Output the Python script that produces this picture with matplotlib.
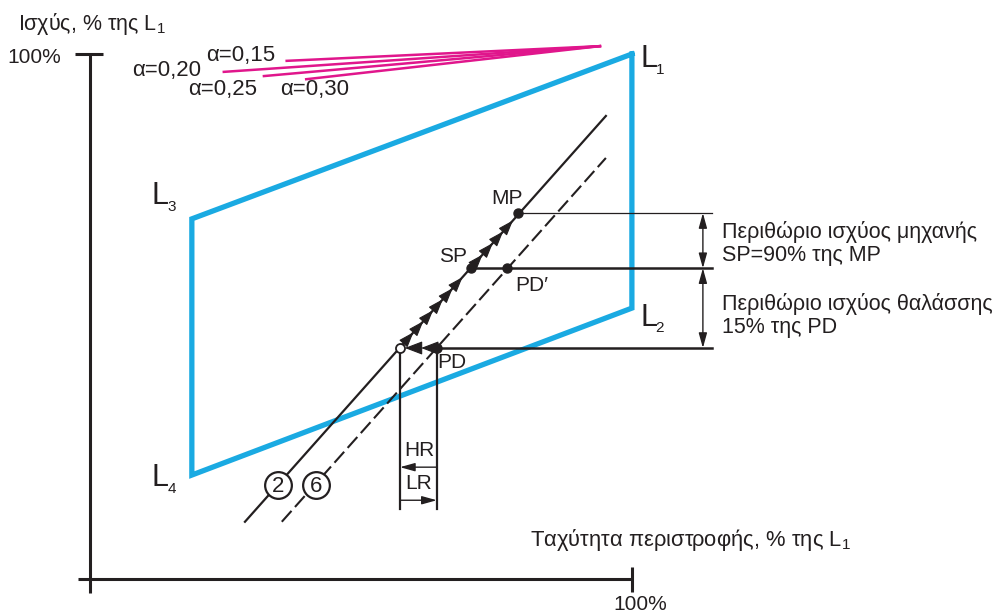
import matplotlib
matplotlib.use("Agg")
import matplotlib.pyplot as plt
import numpy as np

plt.rcParams['font.family'] = ['Liberation Sans', 'DejaVu Sans']
plt.rcParams['mathtext.fontset'] = 'custom'
plt.rcParams['mathtext.rm'] = 'Liberation Sans'
plt.rcParams['mathtext.default'] = 'regular'

# ---- data (all in % of L1: x = speed, y = power) ----
layout_x = [100, 100, 18.8, 18.8, 100]          # L1, L2, L4, L3, L1
layout_y = [100, 51.6, 19.8, 68.6, 100]
corner_names = ['1', '2', '3', '4']

alpha_labels = ['α=0,15', 'α=0,20', 'α=0,25', 'α=0,30']
alpha_start_x = [36.3, 24.7, 32.1, 39.9]
alpha_start_y = [98.7, 96.6, 95.8, 95.2]
alpha_end = (94.1, 101.5)

line2_x = [28.6, 95.2]
line2_y = [10.9, 88.2]
line6_x = [35.4, 95.2]
line6_y = [10.9, 80.2]

MP = (79.0, 69.7)
SP = (70.3, 59.2)
PDp = (76.9, 59.2)
PD = (64.0, 44.0)
OP = (57.2, 44.0)     # open circle on line 2

margin_end_x = 114.8
bracket_x = 113.1
dim_bottom = 13.3
HR_y = 21.3
LR_y = 15.0
arrow_y_below = [47.0, 49.1, 51.2, 53.3, 55.4, 57.5]
arrow_y_above = [61.8, 64.0, 66.2, 68.3]

blue = '#1AAAE2'
magenta = '#E0168C'
txtc = '#231F20'

fig = plt.figure(figsize=(10.08, 6.15), dpi=100)
ax = fig.add_axes([0, 0, 1, 1])
ax.set_xlim(-16.6, 169.4)
ax.set_ylim(-6.86, 110.29)
ax.axis('off')

# axes lines
ax.plot([-2.2, 100], [0, 0], color=txtc, lw=2.2, solid_capstyle='butt')
ax.plot([0, 0], [-2.7, 100], color=txtc, lw=2.2, solid_capstyle='butt')
ax.plot([-2.8, 2.4], [100, 100], color=txtc, lw=2.2, solid_capstyle='butt')
ax.plot([100, 100], [2.3, -2.5], color=txtc, lw=2.2, solid_capstyle='butt')

# layout diagram
ax.plot(layout_x, layout_y, color=blue, lw=3.8, solid_joinstyle='miter', zorder=2)

# alpha lines
for sx, sy in zip(alpha_start_x, alpha_start_y):
    ax.plot([sx, alpha_end[0]], [sy, alpha_end[1]], color=magenta, lw=1.8, zorder=2)

# lines 2 and 6
ax.plot(line2_x, line2_y, color=txtc, lw=1.6, zorder=3)
ax.plot(line6_x, line6_y, color=txtc, lw=1.5, zorder=3, dashes=(7, 2.5))

# horizontal lines
ax.plot([MP[0], margin_end_x], [MP[1], MP[1]], color=txtc, lw=0.9, zorder=3)
ax.plot([SP[0], margin_end_x], [SP[1], SP[1]], color=txtc, lw=1.8, zorder=3)
ax.plot([PD[0], margin_end_x], [PD[1], PD[1]], color=txtc, lw=1.8, zorder=3)

# vertical dims from OP and PD
ax.plot([OP[0], OP[0]], [OP[1], dim_bottom], color=txtc, lw=1.6, zorder=3)
ax.plot([PD[0], PD[0]], [PD[1], dim_bottom], color=txtc, lw=1.6, zorder=3)

# arrows along line 2
slope = (line2_y[1] - line2_y[0]) / (line2_x[1] - line2_x[0])
def x_on2(y):
    return line2_x[0] + (y - line2_y[0]) / slope
for yy in arrow_y_below + arrow_y_above:
    x1 = x_on2(yy)
    x0 = x_on2(yy - 1.6)
    ax.annotate('', xy=(x1, yy), xytext=(x0, yy - 1.6),
                arrowprops=dict(arrowstyle='-|>,head_length=0.95,head_width=0.34',
                                color=txtc, lw=0.8, shrinkA=0, shrinkB=0), zorder=4)

# double arrowheads on PD line pointing to OP
for tip in [OP[0] + 0.9, OP[0] + 3.9]:
    ax.annotate('', xy=(tip, PD[1]), xytext=(tip + 2.6, PD[1]),
                arrowprops=dict(arrowstyle='-|>,head_length=1.1,head_width=0.42',
                                color=txtc, lw=0.8, shrinkA=0, shrinkB=0), zorder=4)

# HR / LR arrows
ax.annotate('', xy=(OP[0], HR_y), xytext=(PD[0], HR_y),
            arrowprops=dict(arrowstyle='-|>,head_length=0.9,head_width=0.25',
                            color=txtc, lw=1.0, shrinkA=0, shrinkB=0))
ax.annotate('', xy=(PD[0], LR_y), xytext=(OP[0], LR_y),
            arrowprops=dict(arrowstyle='-|>,head_length=0.9,head_width=0.25',
                            color=txtc, lw=1.0, shrinkA=0, shrinkB=0))

# margin brackets
for y0, y1 in [(MP[1], SP[1]), (SP[1], PD[1])]:
    ax.annotate('', xy=(bracket_x, y0), xytext=(bracket_x, y1),
                arrowprops=dict(arrowstyle='<|-|>,head_length=0.9,head_width=0.25',
                                color=txtc, lw=1.0, shrinkA=0, shrinkB=0))

# points
ax.plot([MP[0], SP[0], PDp[0], PD[0]], [MP[1], SP[1], PDp[1], PD[1]], 'o',
        color=txtc, ms=6.5, zorder=5)
ax.plot([OP[0]], [OP[1]], 'o', mfc='white', mec=txtc, mew=1.3, ms=6.5, zorder=5)

# circled numbers
circ_x = [34.7, 41.7]
circ_y = [17.9, 17.9]
circ_txt = ['2', '6']
for cx, cy, t in zip(circ_x, circ_y, circ_txt):
    ax.scatter([cx], [cy], s=370, facecolor='white', edgecolor=txtc, linewidths=1.6, zorder=6)
    ax.text(cx, cy - 0.2, t, ha='center', va='center', fontsize=16, color=txtc, zorder=7)

# corner labels
big_pos = [(101.5, 99.0), (101.5, 49.8), (11.4, 72.9), (11.4, 19.2)]
for (lx, ly), n in zip(big_pos, corner_names):
    ax.text(lx, ly, 'L', fontsize=22, ha='left', va='center', color=txtc)
    ax.text(lx + 2.9, ly - 2.0, n, fontsize=11, ha='left', va='center', color=txtc)

# alpha labels
alpha_lx = [27.9, 14.2, 24.5, 41.5]
alpha_ly = [99.8, 96.8, 93.3, 93.3]
for t, lx, ly in zip(alpha_labels, alpha_lx, alpha_ly):
    ax.text(lx, ly, t, fontsize=16, ha='center', va='center', color=txtc)

# axis labels
ax.text(-13.3, 105.7, 'Ισχύς, % της L$_1$', fontsize=15.5, ha='left', va='center', color=txtc)
ax.text(-5.4, 99.4, '100%', fontsize=15, ha='right', va='center', color=txtc)
ax.text(101.5, -4.9, '100%', fontsize=15, ha='center', va='center', color=txtc)
ax.text(81.2, 7.4, 'Ταχύτητα περιστροφής, % της L$_1$', fontsize=15.8, ha='left', va='center', color=txtc)

# point labels
ax.text(76.9, 72.4, 'MP', fontsize=15, ha='center', va='center', color=txtc)
ax.text(67.0, 61.5, 'SP', fontsize=15, ha='center', va='center', color=txtc)
ax.text(81.5, 56.0, 'PD′', fontsize=15, ha='center', va='center', color=txtc)
ax.text(66.8, 41.3, 'PD', fontsize=15, ha='center', va='center', color=txtc)
ax.text(60.7, 24.4, 'HR', fontsize=15, ha='center', va='center', color=txtc)
ax.text(60.7, 18.1, 'LR', fontsize=15, ha='center', va='center', color=txtc)

# margin descriptions
ax.text(116.6, 66.1, 'Περιθώριο ισχύος μηχανής', fontsize=15.5, ha='left', va='center', color=txtc)
ax.text(116.6, 61.7, 'SP=90% της MP', fontsize=15.5, ha='left', va='center', color=txtc)
ax.text(116.6, 52.4, 'Περιθώριο ισχύος θαλάσσης', fontsize=15.5, ha='left', va='center', color=txtc)
ax.text(116.6, 48.0, '15% της PD', fontsize=15.5, ha='left', va='center', color=txtc)

fig.savefig('out.png', dpi=100)
